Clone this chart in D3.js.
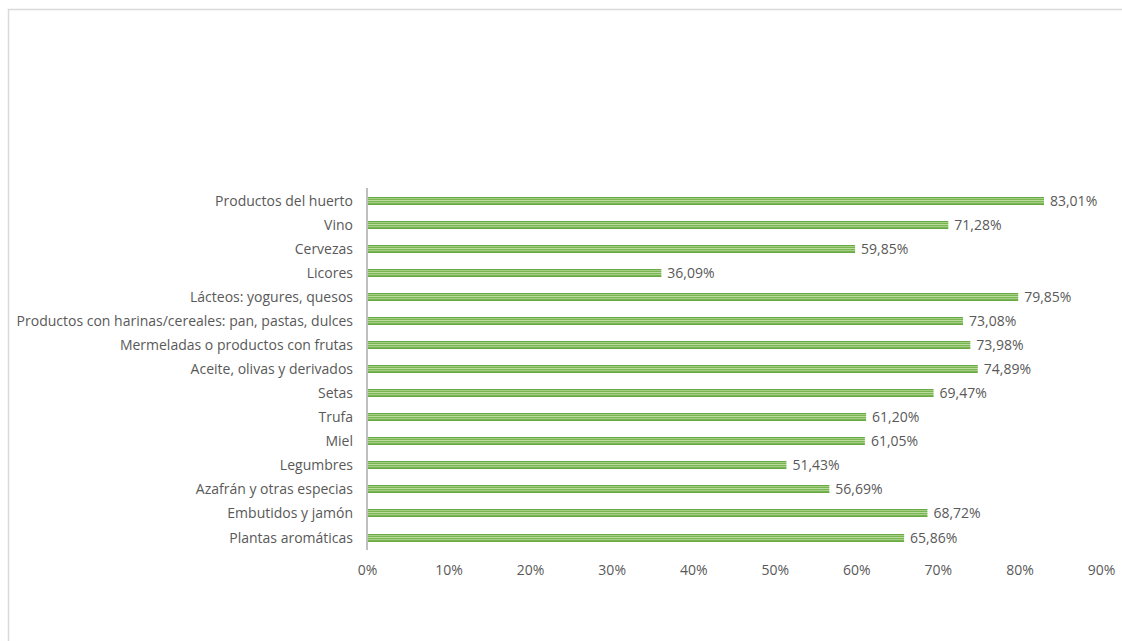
<!DOCTYPE html>
<html>
<head>
<meta charset="utf-8">
<script src="https://cdn.jsdelivr.net/npm/d3@7"></script>
<style>
  body { margin: 0; background: #fff; }
  svg { display: block; font-family: "Open Sans", "Liberation Sans", sans-serif; }
</style>
</head>
<body>
<svg id="chart" width="1122" height="641"></svg>
<script>
var categories = [
	"Productos del huerto",
	"Vino",
	"Cervezas",
	"Licores",
	"Lácteos: yogures, quesos",
	"Productos con harinas/cereales: pan, pastas, dulces",
	"Mermeladas o productos con frutas",
	"Aceite, olivas y derivados",
	"Setas",
	"Trufa",
	"Miel",
	"Legumbres",
	"Azafrán y otras especias",
	"Embutidos y jamón",
	"Plantas aromáticas"
];
var values = [83.01, 71.28, 59.85, 36.09, 79.85, 73.08, 73.98, 74.89, 69.47, 61.20, 61.05, 51.43, 56.69, 68.72, 65.86];
var ticks = [0, 10, 20, 30, 40, 50, 60, 70, 80, 90];

var svg = d3.select("#chart");
var fontSize = 14;

// chart frame
svg.append("rect")
	.attr("x", 8.5).attr("y", 9.5)
	.attr("width", 1130).attr("height", 650)
	.attr("fill", "none")
	.attr("stroke", "#d9d9d9")
	.attr("stroke-width", 1.5);

// striped fill for bars (hard-stop vertical gradient)
var defs = svg.append("defs");
var grad = defs.append("linearGradient")
	.attr("id", "stripes")
	.attr("x1", 0).attr("y1", 0).attr("x2", 0).attr("y2", 1);
var stripeCols = ["#6aa842", "#a5cf88", "#78b450", "#b7dc9e", "#7cb755", "#a5cf88", "#78b450", "#6aa842"];
stripeCols.forEach(function(c, i) {
	grad.append("stop").attr("offset", i / stripeCols.length).attr("stop-color", c);
	grad.append("stop").attr("offset", (i + 1) / stripeCols.length).attr("stop-color", c);
});

var x = d3.scaleLinear().domain([0, 90]).range([367, 1101]);
var y = d3.scaleBand().domain(categories).range([189, 550]).paddingInner(0.63).paddingOuter(0.315);

var fmt = function(v) { return v.toFixed(2).replace(".", ",") + "%"; };

var bars = svg.append("g").selectAll(".bar")
	.data(values)
	.enter().append("g")
	.attr("transform", function(d, i) { return "translate(0," + Math.round(y(categories[i])) + ")"; });

bars.append("rect")
	.attr("x", x(0))
	.attr("y", 0)
	.attr("width", function(d) { return x(d) - x(0); })
	.attr("height", 8)
	.attr("fill", "url(#stripes)");

bars.append("text")
	.attr("x", function(d) { return x(d) + 6; })
	.attr("y", 4.5)
	.attr("dy", "0.35em")
	.attr("font-size", fontSize)
	.attr("fill", "#595959")
	.text(fmt);

// category labels
svg.append("g").selectAll(".cat")
	.data(categories)
	.enter().append("text")
	.attr("x", 353)
	.attr("y", function(d) { return Math.round(y(d)) + 4.5; })
	.attr("dy", "0.35em")
	.attr("text-anchor", "end")
	.attr("font-size", fontSize)
	.attr("fill", "#595959")
	.text(function(d) { return d; });

// vertical axis line
svg.append("line")
	.attr("x1", x(0)).attr("x2", x(0))
	.attr("y1", 188).attr("y2", 550)
	.attr("stroke", "#bfbfbf")
	.attr("stroke-width", 2);

// x axis tick labels
var xAxis = d3.axisBottom(x)
	.tickValues(ticks)
	.tickSize(0)
	.tickPadding(0)
	.tickFormat(function(d) { return d + "%"; });

var gx = svg.append("g")
	.attr("transform", "translate(0,565)")
	.call(xAxis);
gx.select(".domain").remove();
gx.selectAll("text")
	.attr("font-size", fontSize)
	.attr("font-family", "\"Open Sans\", \"Liberation Sans\", sans-serif")
	.attr("fill", "#595959");
</script>
</body>
</html>
